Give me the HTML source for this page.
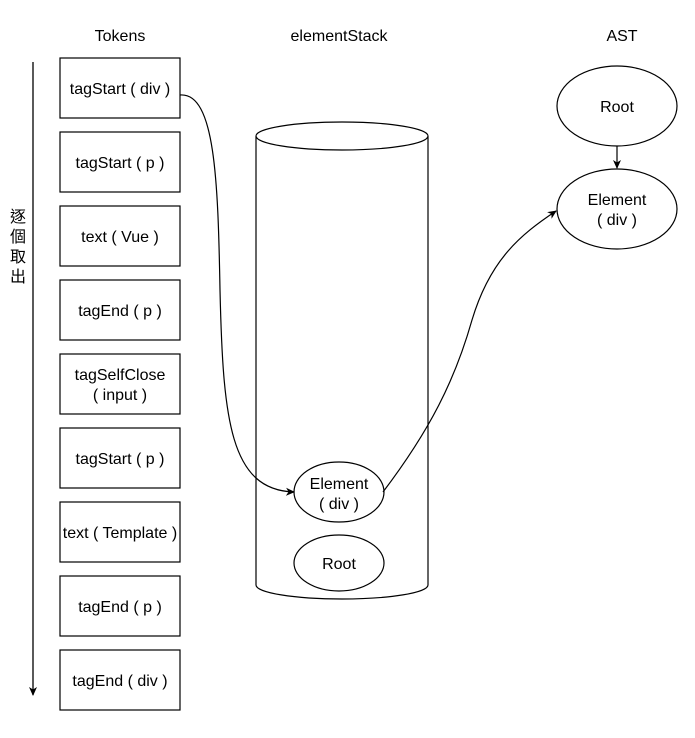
<!DOCTYPE html>
<html><head><meta charset="utf-8"><style>
html,body{margin:0;padding:0;background:#fff;}
svg text{font-family:"Liberation Sans","Noto Sans CJK TC",sans-serif;font-size:16px;fill:#000;}
</style></head><body>
<svg width="695" height="733" xmlns="http://www.w3.org/2000/svg">
<defs><marker id="a" markerWidth="10" markerHeight="10" refX="8" refY="5" orient="auto" markerUnits="userSpaceOnUse"><path d="M0,1 L9,5 L0,9 L2.5,5 Z" fill="#000"/></marker></defs>
<g text-anchor="middle">
<text x="120" y="41">Tokens</text>
<text x="339" y="41">elementStack</text>
<text x="622" y="41">AST</text>
</g>
<line x1="33" y1="62" x2="33" y2="695" stroke="#000" stroke-width="1.3" marker-end="url(#a)"/>
<g text-anchor="middle" style="font-size:15px"><text x="18" y="222">逐</text><text x="18" y="242">個</text><text x="18" y="262">取</text><text x="18" y="282">出</text></g>
<g fill="#fff" stroke="#000" stroke-width="1.2">
<rect x="60" y="58" width="120" height="60"/><rect x="60" y="132" width="120" height="60"/><rect x="60" y="206" width="120" height="60"/><rect x="60" y="280" width="120" height="60"/><rect x="60" y="354" width="120" height="60"/><rect x="60" y="428" width="120" height="60"/><rect x="60" y="502" width="120" height="60"/><rect x="60" y="576" width="120" height="60"/><rect x="60" y="650" width="120" height="60"/>
</g>
<g text-anchor="middle">
<text x="120" y="94">tagStart ( div )</text>
<text x="120" y="168">tagStart ( p )</text>
<text x="120" y="242">text ( Vue )</text>
<text x="120" y="316">tagEnd ( p )</text>
<text x="120" y="380">tagSelfClose</text><text x="120" y="400">( input )</text>
<text x="120" y="464">tagStart ( p )</text>
<text x="120" y="538">text ( Template )</text>
<text x="120" y="612">tagEnd ( p )</text>
<text x="120" y="686">tagEnd ( div )</text>
</g>
<path d="M256,136 L256,585 A86,14 0 0 0 428,585 L428,136" fill="#fff" stroke="#000" stroke-width="1.2"/>
<ellipse cx="342" cy="136" rx="86" ry="14" fill="#fff" stroke="#000" stroke-width="1.2"/>
<ellipse cx="339" cy="492" rx="45" ry="30" fill="#fff" stroke="#000" stroke-width="1.2"/>
<ellipse cx="339" cy="563" rx="45" ry="28" fill="#fff" stroke="#000" stroke-width="1.2"/>
<g text-anchor="middle">
<text x="339" y="489">Element</text><text x="339" y="509">( div )</text>
<text x="339" y="569">Root</text>
</g>
<ellipse cx="617" cy="106" rx="60" ry="40" fill="#fff" stroke="#000" stroke-width="1.2"/>
<ellipse cx="617" cy="209" rx="60" ry="40" fill="#fff" stroke="#000" stroke-width="1.2"/>
<g text-anchor="middle">
<text x="617" y="112">Root</text>
<text x="617" y="205">Element</text><text x="617" y="225">( div )</text>
</g>
<line x1="617" y1="146" x2="617" y2="168" stroke="#000" stroke-width="1.2" marker-end="url(#a)"/>
<path d="M180,95 C215,92 218,180 220,290 C223,420 230,490 294,492" fill="none" stroke="#000" stroke-width="1.2" marker-end="url(#a)"/>
<path d="M383,492 C430,430 455,380 472,320 C490,260 520,235 556,211" fill="none" stroke="#000" stroke-width="1.2" marker-end="url(#a)"/>
</svg>
</body></html>
